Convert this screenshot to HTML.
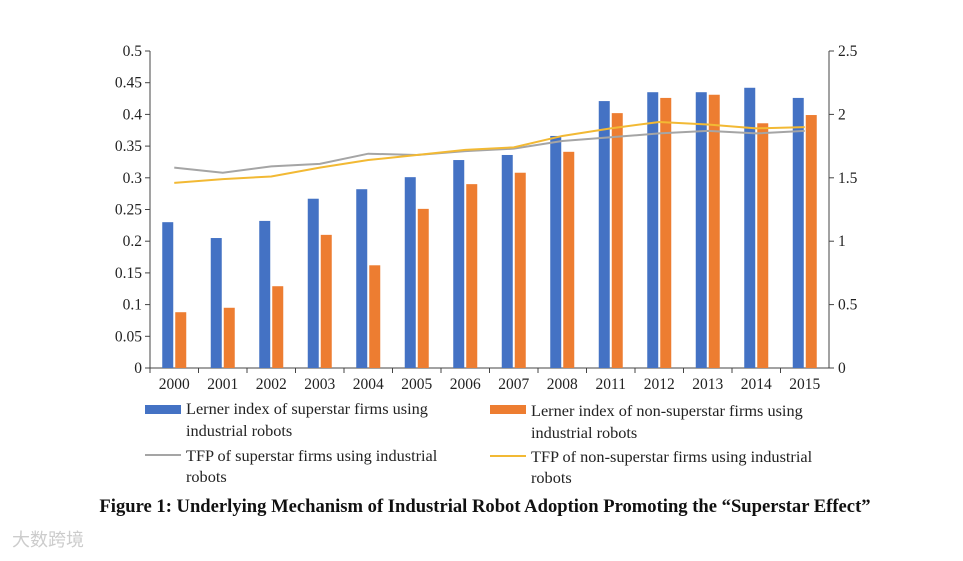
<!DOCTYPE html>
<html><head><meta charset="utf-8"><style>
body{margin:0;background:#fff;width:963px;height:556px;overflow:hidden;font-family:"Liberation Serif",serif}
</style></head><body>
<svg id="chart" width="963" height="556" xmlns="http://www.w3.org/2000/svg" font-family="Liberation Serif, serif"></svg>
<script>
const categories=["2000","2001","2002","2003","2004","2005","2006","2007","2008","2011","2012","2013","2014","2015"];
const lernerSuperstar=[0.230,0.205,0.232,0.267,0.282,0.301,0.328,0.336,0.366,0.421,0.435,0.435,0.442,0.426];
const lernerNonSuperstar=[0.088,0.095,0.129,0.210,0.162,0.251,0.290,0.308,0.341,0.402,0.426,0.431,0.386,0.399];
const tfpSuperstar=[1.58,1.54,1.59,1.61,1.69,1.68,1.71,1.73,1.79,1.82,1.85,1.87,1.85,1.87];
const tfpNonSuperstar=[1.46,1.49,1.51,1.58,1.64,1.68,1.72,1.74,1.83,1.89,1.94,1.92,1.89,1.90];
const leftTicks=["0","0.05","0.1","0.15","0.2","0.25","0.3","0.35","0.4","0.45","0.5"];
const rightTicks=["0","0.5","1","1.5","2","2.5"];

const svg=document.getElementById('chart');
const NS="http://www.w3.org/2000/svg";
const X0=150,X1=829,Y0=368,Y1=51;
const yL=v=>Y0-(v/0.5)*(Y0-Y1);
const yR=v=>Y0-(v/2.5)*(Y0-Y1);
const step=(X1-X0)/categories.length;
const xC=i=>X0+step*(i+0.5);
function mk(tag,attrs,name,text){const e=document.createElementNS(NS,tag);for(const k in attrs)e.setAttribute(k,attrs[k]);


if(text!==undefined)e.textContent=text;svg.appendChild(e);return e;}
mk('line',{x1:X0,y1:Y1,x2:X0,y2:Y0,stroke:'#444','stroke-width':1},'left-axis');
mk('line',{x1:X1,y1:Y1,x2:X1,y2:Y0,stroke:'#444','stroke-width':1},'right-axis');
mk('line',{x1:X0,y1:Y0,x2:X1,y2:Y0,stroke:'#444','stroke-width':1},'x-axis');
leftTicks.forEach(t=>{const y=yL(parseFloat(t));
mk('line',{x1:X0-5,y1:y,x2:X0,y2:y,stroke:'#444'},'left-tick');
mk('text',{x:X0-8,y:y+5,'text-anchor':'end','font-size':15.5,fill:'#222'},'left-tick-label',t);});
rightTicks.forEach(t=>{const y=yR(parseFloat(t));
mk('line',{x1:X1,y1:y,x2:X1+5,y2:y,stroke:'#444'},'right-tick');
mk('text',{x:X1+9,y:y+5,'font-size':15.5,fill:'#222'},'right-tick-label',t);});
categories.forEach((c,i)=>{
mk('line',{x1:X0+step*i,y1:Y0,x2:X0+step*i,y2:Y0+5,stroke:'#444'},'x-tick');
mk('text',{x:xC(i),y:Y0+21,'text-anchor':'middle','font-size':15.5,fill:'#222'},'x-tick-label',c);
const b=lernerSuperstar[i],o=lernerNonSuperstar[i];
mk('rect',{x:xC(i)-12,y:yL(b),width:11,height:Y0-yL(b),fill:'#4472c4'},'bar-superstar-'+c);
mk('rect',{x:xC(i)+1,y:yL(o),width:11,height:Y0-yL(o),fill:'#ed7d31'},'bar-non-superstar-'+c);
});
mk('polyline',{points:tfpSuperstar.map((v,i)=>xC(i)+','+yR(v)).join(' '),fill:'none',stroke:'#a5a5a5','stroke-width':2},'line-tfp-superstar');
mk('polyline',{points:tfpNonSuperstar.map((v,i)=>xC(i)+','+yR(v)).join(' '),fill:'none',stroke:'#f2b934','stroke-width':2},'line-tfp-non-superstar');
const LF=16.3;
mk('rect',{x:145,y:405,width:36,height:9,fill:'#4472c4'},'legend-swatch-superstar');
mk('text',{x:186,y:414,'font-size':LF,fill:'#222'},'legend-label-superstar','Lerner index of superstar firms using');
mk('text',{x:186,y:436,'font-size':LF,fill:'#222'},'legend-label-superstar-2','industrial robots');
mk('rect',{x:490,y:405,width:36,height:9,fill:'#ed7d31'},'legend-swatch-non-superstar');
mk('text',{x:531,y:416,'font-size':LF,fill:'#222'},'legend-label-non-superstar','Lerner index of non-superstar firms using');
mk('text',{x:531,y:438,'font-size':LF,fill:'#222'},'legend-label-non-superstar-2','industrial robots');
mk('line',{x1:145,y1:455,x2:181,y2:455,stroke:'#a5a5a5','stroke-width':2},'legend-swatch-tfp-superstar');
mk('text',{x:186,y:461,'font-size':LF,fill:'#222'},'legend-label-tfp-superstar','TFP of superstar firms using industrial');
mk('text',{x:186,y:482,'font-size':LF,fill:'#222'},'legend-label-tfp-superstar-2','robots');
mk('line',{x1:490,y1:456,x2:526,y2:456,stroke:'#f2b934','stroke-width':2},'legend-swatch-tfp-non-superstar');
mk('text',{x:531,y:462,'font-size':LF,fill:'#222'},'legend-label-tfp-non-superstar','TFP of non-superstar firms using industrial');
mk('text',{x:531,y:483,'font-size':LF,fill:'#222'},'legend-label-tfp-non-superstar-2','robots');
mk('text',{x:485,y:512,'text-anchor':'middle','font-size':18.6,'font-weight':'bold',fill:'#111'},'figure-caption','Figure 1: Underlying Mechanism of Industrial Robot Adoption Promoting the “Superstar Effect”');
mk('text',{x:12,y:546,'font-size':18,fill:'#ccc','font-family':'Noto Sans CJK SC, sans-serif'},'watermark','大数跨境');
</script>
</body></html>
